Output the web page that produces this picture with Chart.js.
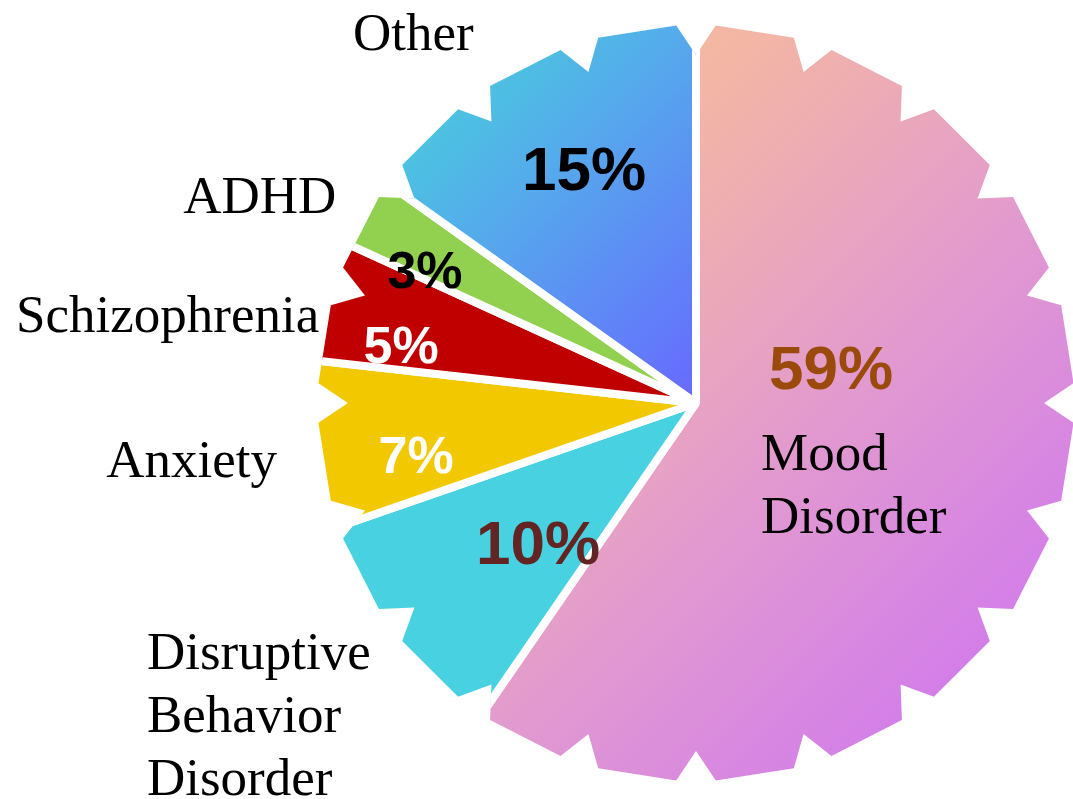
<!DOCTYPE html>
<html>
<head>
<meta charset="utf-8">
<script src="https://cdn.jsdelivr.net/npm/chart.js@4/dist/chart.umd.min.js"></script>
<style>
  body { margin: 0; background: #fff; }
  #wrap { width: 1073px; height: 799px; }
</style>
</head>
<body>
<div id="wrap"><canvas id="pie" width="1073" height="799"></canvas></div>
<script>
const categories = ["Mood Disorder", "Disruptive Behavior Disorder", "Anxiety", "Schizophrenia", "ADHD", "Other"];
const shares = [59, 10, 7, 5, 3, 15];
const labelLines = [["Mood", "Disorder"], ["Disruptive", "Behavior", "Disorder"], ["Anxiety"], ["Schizophrenia"], ["ADHD"], ["Other"]];
const sliceColors = [null, "#48D1E0", "#F2C900", "#C00000", "#92D050", null];
const pctColors = ["#9A4A0A", "#632523", "#ffffff", "#ffffff", "#000000", "#000000"];

// text anchors, relative to the pie centre in units of the outer radius
const pctPos = [[0.351, -0.036], [-0.41, 0.418], [-0.727, 0.182], [-0.766, -0.104], [-0.704, -0.299], [-0.291, -0.553]];
const pctSize = [62, 62, 52, 52, 52, 62];
const namePos = [[0.169, 0.174], [-1.426, 0.691], [-1.532, 0.192], [-1.766, -0.184], [-1.332, -0.494], [-0.891, -0.917]];

const PIE_RADIUS = 385;

function sliceFill(c) {
  const i = c.dataIndex;
  const area = c.chart.chartArea;
  if (sliceColors[i]) return sliceColors[i];
  if (!area) return i === 0 ? "#E195D5" : "#55A8EC";
  const cx = (area.left + area.right) / 2;
  const cy = (area.top + area.bottom) / 2;
  const R = PIE_RADIUS;
  const ctx = c.chart.ctx;
  let g;
  if (i === 0) {
    g = ctx.createLinearGradient(cx - 0.51 * R, cy - 0.98 * R, cx + 1.22 * R, cy + 0.75 * R);
    g.addColorStop(0, "#F6BC9C");
    g.addColorStop(0.2, "#F3B6A5");
    g.addColorStop(0.55, "#E199D0");
    g.addColorStop(1, "#CB6EF7");
  } else {
    g = ctx.createLinearGradient(cx - 0.77 * R, cy - 0.98 * R, cx + 0.11 * R, cy - 0.1 * R);
    g.addColorStop(0, "#48C8DE");
    g.addColorStop(0.2, "#4CC3E0");
    g.addColorStop(0.42, "#55ABEB");
    g.addColorStop(1, "#6868FF");
  }
  return g;
}

// jagged rim: 20 notches, one every 18 degrees
function gearPath(ctx, cx, cy, R) {
  const rOut = R * 0.982;
  const rIn = R * 0.904;
  const d = (3 * Math.PI) / 180;
  ctx.beginPath();
  for (let k = 0; k < 20; k++) {
    const a = (k * Math.PI) / 10;
    const pts = [[a - d, rOut], [a, rIn], [a + d, rOut]];
    pts.forEach(([ang, r], j) => {
      const x = cx + r * Math.cos(ang);
      const y = cy + r * Math.sin(ang);
      if (k === 0 && j === 0) ctx.moveTo(x, y);
      else ctx.lineTo(x, y);
    });
  }
  ctx.closePath();
}

const gearClip = {
  id: "gearClip",
  beforeDatasetsDraw(chart) {
    const arc = chart.getDatasetMeta(0).data[0];
    const ctx = chart.ctx;
    ctx.save();
    gearPath(ctx, arc.x, arc.y, arc.outerRadius);
    ctx.clip();
  },
  afterDatasetsDraw(chart) {
    chart.ctx.restore();
  },
};

const sliceText = {
  id: "sliceText",
  afterDraw(chart) {
    const ctx = chart.ctx;
    const arcs = chart.getDatasetMeta(0).data;
    const cx = arcs[0].x;
    const cy = arcs[0].y;
    const R = arcs[0].outerRadius;
    ctx.save();
    ctx.textBaseline = "alphabetic";
    shares.forEach((v, i) => {
      ctx.textAlign = "center";
      ctx.fillStyle = pctColors[i];
      ctx.font = "bold " + pctSize[i] + "px 'Liberation Sans', Arial, sans-serif";
      ctx.fillText(v + "%", cx + pctPos[i][0] * R, cy + pctPos[i][1] * R);

      ctx.textAlign = "left";
      ctx.fillStyle = "#000";
      ctx.font = "53px 'Liberation Serif', 'Times New Roman', serif";
      labelLines[i].forEach((line, j) => {
        ctx.fillText(line, cx + namePos[i][0] * R, cy + namePos[i][1] * R + j * 63);
      });
    });
    ctx.restore();
  },
};

new Chart(document.getElementById("pie"), {
  type: "pie",
  data: {
    labels: categories,
    datasets: [
      {
        data: shares,
        backgroundColor: sliceFill,
        borderColor: "#ffffff",
        borderWidth: 8,
      },
    ],
  },
  options: {
    responsive: false,
    animation: false,
    events: [],
    radius: PIE_RADIUS,
    layout: { padding: { left: 319, top: 7, right: 0, bottom: 0 } },
    plugins: { legend: { display: false }, tooltip: { enabled: false } },
  },
  plugins: [gearClip, sliceText],
});
</script>
</body>
</html>
